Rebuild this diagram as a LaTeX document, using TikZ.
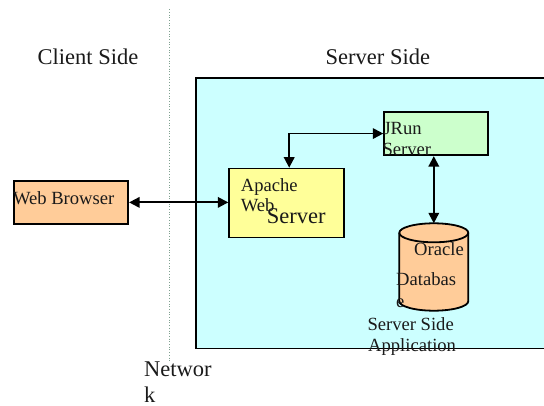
\documentclass[tikz,border=0pt]{standalone}
\usepackage{fontspec}
\setmainfont{Liberation Serif}
\usetikzlibrary{arrows.meta}
\definecolor{srvfill}{HTML}{CCFFFF}
\definecolor{peach}{HTML}{FFCC99}
\definecolor{apfill}{HTML}{FFFF99}
\definecolor{jrfill}{HTML}{CCFFCC}
\definecolor{netline}{HTML}{7FA08F}
\definecolor{txt}{HTML}{1A1A1A}
\begin{document}
\begin{tikzpicture}[x=1pt,y=-1pt,
  box/.style={draw=black, line width=1.8pt, inner sep=0pt, anchor=north west},
  lbl/.style={anchor=base west, inner sep=0pt, text=txt, font=\fontsize{18.6}{20}\selectfont},
  big/.style={anchor=base west, inner sep=0pt, text=txt, font=\fontsize{22.5}{24}\selectfont},
  tip/.tip={Triangle[length=10.5pt,width=10.5pt]},
  biarrow/.style={tip-tip, line width=1.9pt}]
\useasboundingbox (0,0) rectangle (544,406);
\clip (0,0) rectangle (544,406);
% server area
\node[box, line width=1.5pt, fill=srvfill, minimum width=360pt, minimum height=270.4pt] (srv) at (195,77.3) {};
% network divider
\coordinate (nettop) at (169.3,9.3);
\coordinate (netbot) at (169.3,362);
\draw[netline, line width=0.7pt, dotted] (nettop) -- (netbot);
% titles
\node[big] (client) at (37.5,65) {Client Side};
\node[big] (server) at (325.5,65) {Server Side};
% boxes
\node[box, fill=peach, minimum width=114.6pt, minimum height=43pt] (wb) at (12.7,180) {};
\node[box, fill=apfill, minimum width=114.4pt, minimum height=69pt] (ap) at (228.3,167.7) {};
\node[box, fill=jrfill, minimum width=103.4pt, minimum height=43.3pt] (jr) at (383.3,111) {};
% database cylinder
\coordinate (dbtop) at (433.8,223.3);
\filldraw[fill=peach, draw=black, line width=1.8pt]
  (399.3,232.8) -- (399.3,301.2)
  arc[start angle=180, end angle=0, x radius=34.5, y radius=9.5]
  -- (468.3,232.8)
  arc[start angle=0, end angle=-180, x radius=34.5, y radius=9.5] -- cycle;
\draw[line width=1.8pt] (399.3,232.8) arc[start angle=180, end angle=0, x radius=34.5, y radius=9.5];
% connectors
\draw[biarrow] (wb.east) -- (wb.east -| ap.west);
\draw[biarrow] (jr.west) -| ([xshift=2.8pt]ap.north);
\draw[biarrow] (jr.south -| dbtop) -- (dbtop);
% labels
\node[lbl] (wbl) at (12.8,204.3) {Web Browser};
\node[lbl] (ap1) at (240.7,191.7) {Apache};
\node[lbl] (ap2) at (240.7,211.7) {Web};
\node[big] (ap3) at (266.7,224) {Server};
\node[lbl] (jr1) at (383.3,135) {JRun};
\node[lbl] (jr2) at (382.3,156) {Server};
\node[lbl] (db1) at (414,256) {Oracle};
\node[lbl] (db2) at (396,286) {Databas};
\node[lbl] (db3) at (396,308) {e};
\node[lbl] (ssa1) at (367.3,330.7) {Server Side};
\node[lbl] (ssa2) at (368,351.5) {Application};
\node[big] (net1) at (144,376) {Networ};
\node[big] (net2) at (144,402) {k};
\end{tikzpicture}
\end{document}
